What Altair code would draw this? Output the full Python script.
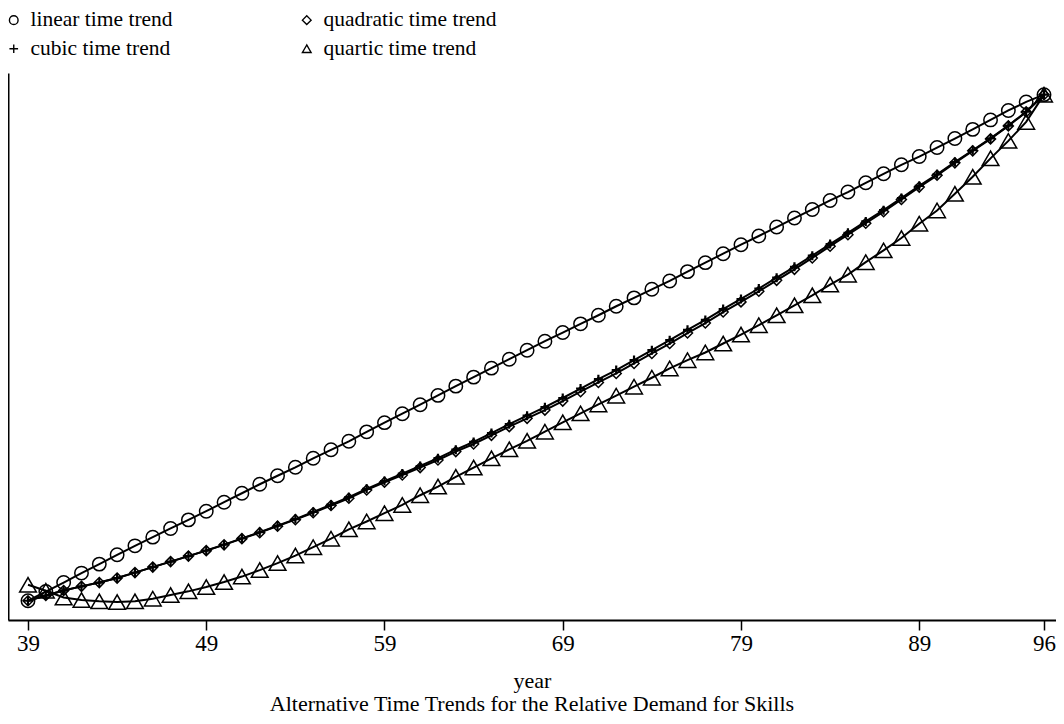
import altair as alt
import pandas as pd

years = list(range(39, 97))

linear = [2.3, 11.5, 20.5, 30, 39, 48.3, 57.3, 66, 74.7, 83.3, 92, 101, 110, 119, 127.5, 136, 145, 153.5,
          162, 171.5, 180.7, 189.7, 198.7, 208, 217.3, 226.3, 235.3, 244.3, 253.3, 262.3, 271, 279.7,
          288.3, 297.3, 305.7, 314.3, 322.7, 332, 341, 350, 359, 367.7, 376.7, 385.7, 394.3, 403.3,
          411.7, 421, 430, 439, 447.3, 456.3, 465.3, 474.5, 484, 493.5, 502, 509.3]

quadratic = [2.3, 7.5, 12.5, 16.7, 20.5, 25, 30.5, 36, 41.5, 47, 52.5, 58.3, 64.5, 70.5, 77, 83.5, 90.5, 97.7,
             105, 113.3, 121, 128.3, 135.7, 143.3, 151.7, 159.3, 168, 176.7, 185, 193.3, 202.3, 211.7,
             221, 230, 240, 250, 260, 270.5, 280.5, 291.5, 301.7, 312.3, 323.3, 334.3, 345.7, 357.5,
             369, 380.5, 392, 404.3, 416.7, 428.5, 441, 453, 465, 478, 492, 509.3]

cubic = [2.3, 7.5, 12.5, 16.7, 20.5, 25, 30.5, 36, 41.5, 47, 52.6, 58.5, 64.8, 70.9, 77.5, 84.1, 91.2, 98.5,
         106, 114.4, 122.2, 129.7, 137.3, 145.1, 153.6, 161.4, 170.3, 179.2, 187.7, 196.2, 205.4, 214.9,
         224.3, 233.4, 243.4, 253.3, 263.3, 273.7, 283.6, 294.5, 304.6, 315.1, 326, 336.8, 348, 359.6,
         370.9, 382.3, 393.6, 405.7, 417.9, 429.5, 441.8, 453.6, 465.5, 478.3, 492.2, 509.3]

quartic = [18.3, 12.3, 5.5, 3, 1.7, 1, 1.7, 4.3, 8, 11.7, 16, 21, 26.5, 33, 40, 47.5, 56, 64.5,
           73.8, 81.7, 90, 98.3, 108, 116.7, 126.5, 135.7, 145, 154, 162.5, 171.7, 181, 190,
           199, 207.7, 216.7, 225.7, 235, 243.3, 251, 260, 269, 278.3, 288.3, 298.3, 308.3, 319,
           329, 341.5, 353.3, 365.7, 380, 393.3, 410, 427, 445.5, 463, 482, 509.3]

series_names = ["linear time trend", "quadratic time trend", "cubic time trend", "quartic time trend"]
# legend fills column by column: this order gives rows "linear | quadratic" and "cubic | quartic"
legend_order = ["linear time trend", "cubic time trend", "quadratic time trend", "quartic time trend"]
PLUS = "M-1,0L1,0M0,-1L0,1"
shape_of = {"linear time trend": "circle", "quadratic time trend": "diamond",
            "cubic time trend": PLUS, "quartic time trend": "triangle-up"}
sizes = [180, 100, 81, 280]
stroke_widths = [1.5, 1.5, 2.2, 1.5]
tick_years = [39, 49, 59, 69, 79, 89, 96]

rows = []
for name, vals in zip(series_names, [linear, quadratic, cubic, quartic]):
    for yr, v in zip(years, vals):
        rows.append({"year": yr, "value": v, "series": name})
df = pd.DataFrame(rows)

FONT = "Liberation Serif"

x = alt.X(
    "year:Q",
    scale=alt.Scale(domain=[37.878, 96.673], nice=False, zero=False),
    axis=alt.Axis(
        values=tick_years, format="d", title="year", grid=False,
        tickSize=10, tickWidth=1.5, tickColor="black",
        domainColor="black", domainWidth=2,
        labelFont=FONT, labelFontSize=23, labelColor="black", labelPadding=2,
        titleFont=FONT, titleFontSize=22, titleFontWeight="normal", titleColor="black",
        titlePadding=15,
    ),
)
y = alt.Y(
    "value:Q",
    scale=alt.Scale(domain=[-17, 531], nice=False, zero=False),
    axis=alt.Axis(title=None, labels=False, ticks=False, grid=False,
                  domainColor="black", domainWidth=2),
)

legend = alt.Legend(
    title=None, orient="none", legendX=-5, legendY=-64, columns=2,
    labelFont=FONT, labelFontSize=21.5, labelColor="black", labelOffset=6,
    symbolStrokeColor="black", symbolStrokeWidth=1.4, symbolSize=75,
    symbolFillColor="transparent",
    columnPadding=123, rowPadding=6, padding=0, labelLimit=400,
)
shape_enc = alt.Shape(
    "series:N",
    scale=alt.Scale(domain=legend_order, range=[shape_of[n] for n in legend_order]),
    legend=legend,
)

lines = alt.Chart(df).mark_line(color="black", strokeWidth=2).encode(
    x=x, y=y, detail="series:N"
)

point_layers = []
for name, s, w in zip(series_names, sizes, stroke_widths):
    point_layers.append(
        alt.Chart(df)
        .transform_filter(alt.datum.series == name)
        .mark_point(stroke="black", filled=False, opacity=1, size=s, strokeWidth=w)
        .encode(x=x, y=y, shape=shape_enc)
    )

chart = (
    alt.layer(lines, *point_layers)
    .properties(
        width=1048,
        height=547,
        autosize=alt.AutoSizeParams(type="none"),
        padding={"left": 0, "top": 65, "right": 0, "bottom": 96},
        title=alt.Title(
            "Alternative Time Trends for the Relative Demand for Skills",
            orient="bottom", anchor="middle", font=FONT, fontSize=22,
            fontWeight="normal", color="black", offset=3,
        ),
        background="white",
    )
    .configure_view(stroke=None)
)

chart.save("out.html", embed_options={"renderer": "svg", "actions": False})
